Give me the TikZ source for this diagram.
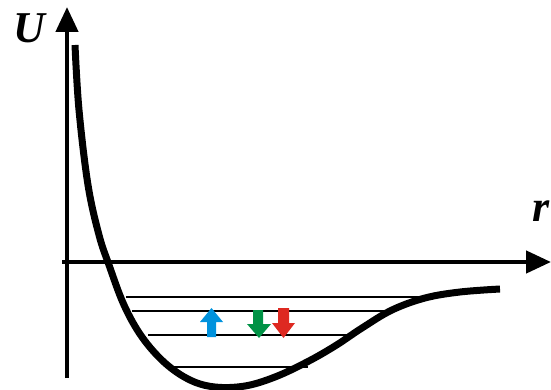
\documentclass[tikz,border=0pt]{standalone}
\usepackage{fontspec}
\setmainfont{Liberation Serif}
\usetikzlibrary{arrows.meta}
\definecolor{upblue}{RGB}{0,146,221}
\definecolor{dngreen}{RGB}{0,146,69}
\definecolor{dnred}{RGB}{222,41,33}
\tikzset{
  axis/.style={line width=4.5pt,-{Triangle[length=25pt,width=22pt]}},
  level/.style={line width=2.2pt},
  potential/.style={line width=7pt},
  lbl/.style={font=\fontsize{44}{44}\selectfont\bfseries\itshape,inner sep=0pt}
}
\begin{document}
\begin{tikzpicture}[x=1pt,y=-1pt]
\useasboundingbox (0,0) rectangle (551,390);
% energy levels
\coordinate (l1a) at (126,297); \coordinate (l1b) at (432,297);
\coordinate (l2a) at (132,311); \coordinate (l2b) at (392,311);
\coordinate (l3a) at (148,335); \coordinate (l3b) at (355,335);
\coordinate (l4a) at (172,367); \coordinate (l4b) at (308,367);
\draw[level] (l1a) -- (l1b);
\draw[level] (l2a) -- (l2b);
\draw[level] (l3a) -- (l3b);
\draw[level] (l4a) -- (l4b);
% axes
\coordinate (o1) at (67,378); \coordinate (utip) at (67,7);
\coordinate (o2) at (62,262); \coordinate (rtip) at (551,262);
\draw[axis] (o1) -- (utip);
\draw[axis] (o2) -- (rtip);
\node[lbl] (U) at (29,28) {U};
\node[lbl,anchor=base west] (r) at (532,221) {r};
% potential curve
\draw[potential] plot[smooth,tension=0.6] coordinates {
  (75,45) (79,110) (88,185) (99,235) (109,265) (124,305) (142,337) (165,363)
  (190,380) (215,387) (245,386) (275,377) (307,362) (335,346) (362,328)
  (392,310) (425,298) (460,292) (500,289)};
% arrows
\fill[upblue] (207,337) -- (207,322) -- (200,322) -- (211.5,308) -- (223,322) -- (216,322) -- (216,337) -- cycle;
\fill[dngreen] (253,310) -- (263,310) -- (263,324) -- (271,324) -- (259,338) -- (247,324) -- (253,324) -- cycle;
\fill[dnred] (278,308) -- (289,308) -- (289,323) -- (295,323) -- (283.5,338) -- (272,323) -- (278,323) -- cycle;
\end{tikzpicture}
\end{document}
